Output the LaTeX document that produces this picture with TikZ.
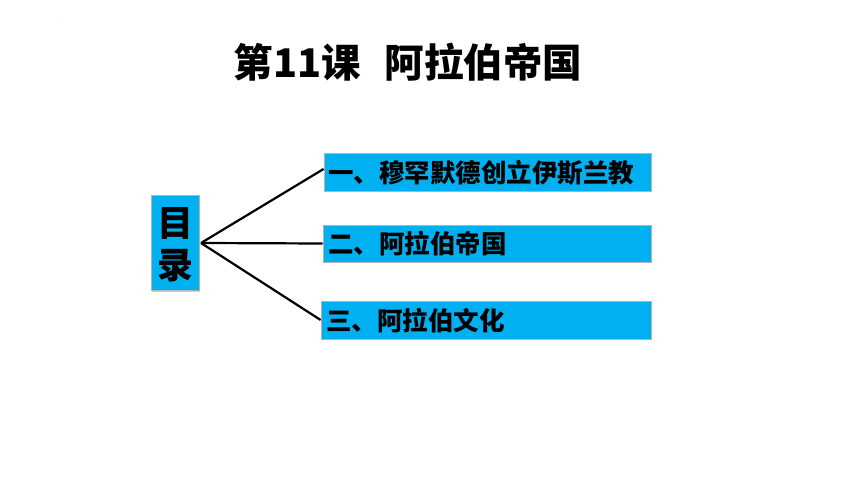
\documentclass[tikz,border=0pt]{standalone}
\usepackage{fontspec}
\newfontfamily\cjk{Noto Sans CJK SC}
\usetikzlibrary{shadows}
\begin{document}
\begin{tikzpicture}[x=1pt,y=-1pt,
  topic/.style={draw=gray!60,line width=0.8pt,fill={rgb,255:red,0;green,176;blue,240},drop shadow={shadow xshift=1pt,shadow yshift=-1pt,opacity=0.4}},
  link/.style={line width=2.2pt,black},
  itemtext/.style={anchor=west,font=\cjk\bfseries\fontsize{25.5}{28}\selectfont,inner sep=0pt}]
\useasboundingbox (0,0) rectangle (860,484);
\node[font=\fontsize{4}{4}\selectfont,text=gray,inner sep=0pt] (dot) at (59,24) {.};
\node[font=\cjk\bfseries\fontsize{39.5}{44}\selectfont,inner sep=0pt] (title) at (408,62) {第11课\hspace{0.6em}阿拉伯帝国};
\node[topic,minimum width=48pt,minimum height=95pt,inner sep=0pt] (mulu) at (175,243) {};
\node[font=\cjk\bfseries\fontsize{36}{42}\selectfont,align=center,inner sep=0pt] (mulut) at (175,245) {目\\录};
\node[topic,minimum width=327pt,minimum height=38pt,inner sep=0pt] (b1) at (487.5,172) {};
\node[topic,minimum width=328pt,minimum height=37pt,inner sep=0pt] (b2) at (487,243.5) {};
\node[topic,minimum width=330pt,minimum height=38pt,inner sep=0pt] (b3) at (486,320) {};
\node[itemtext] (t1) at (328,173) {一、穆罕默德创立伊斯兰教};
\node[itemtext] (t2) at (328,244) {二、阿拉伯帝国};
\node[itemtext] (t3) at (326,321) {三、阿拉伯文化};
\coordinate (hub) at (201,243);
\draw[link] (hub) -- (b1.west|-0,169);
\draw[link] (hub) -- (b2.west);
\draw[link] (hub) -- (b3.west);
\end{tikzpicture}
\end{document}
